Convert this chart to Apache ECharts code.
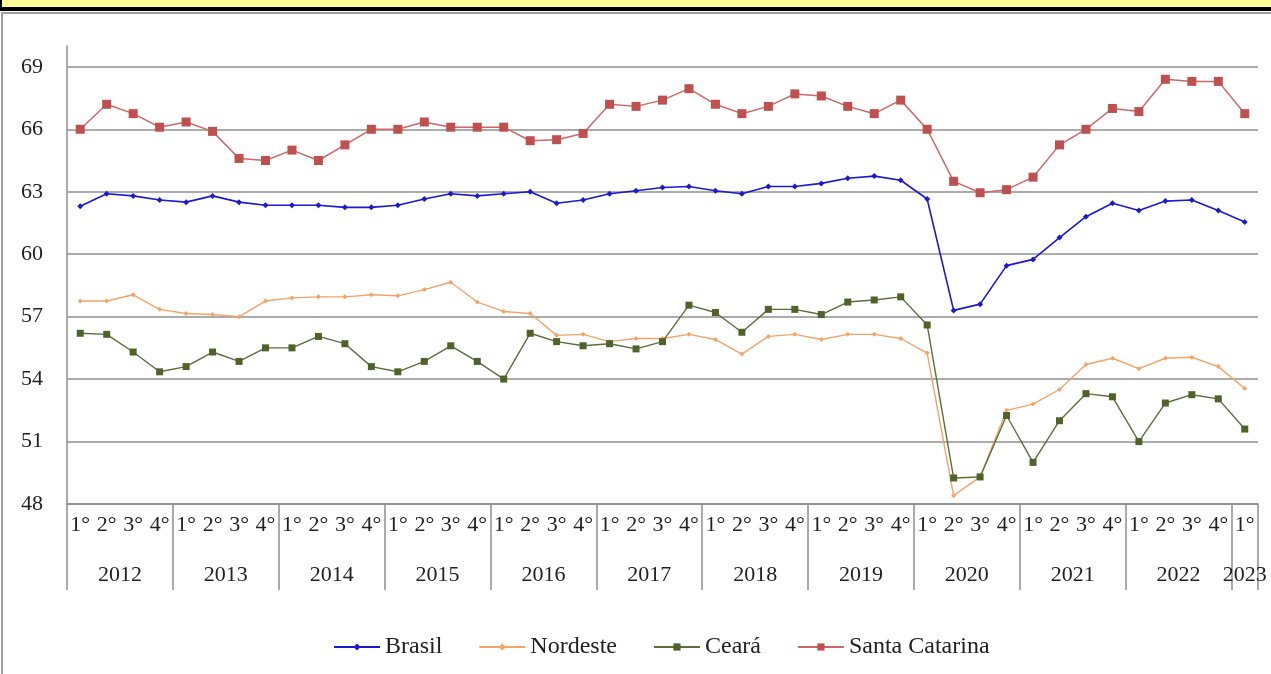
<!DOCTYPE html>
<html>
<head>
<meta charset="utf-8">
<script src="https://cdn.jsdelivr.net/npm/echarts@6/dist/echarts.min.js"></script>
<style>
  html, body { margin: 0; padding: 0; background: #fff; }
  #banner { position: absolute; left: 0; top: 0; width: 1271px; height: 7px; background: #ffff99;
            border-bottom: 4px solid #000; border-left: 2px solid #000; box-sizing: content-box; }
  #frame { position: absolute; left: 1px; top: 12px; width: 1280px; height: 700px;
           border-left: 2px solid #a0a0a0; border-top: 2px solid #a0a0a0; }
  #main { position: absolute; left: 0; top: 0; width: 1271px; height: 674px; }
</style>
</head>
<body>
<div id="frame"></div>
<div id="banner"></div>
<div id="main"></div>
<script>
// dados trimestrais 2012 T1 .. 2023 T1
var years = ['2012','2013','2014','2015','2016','2017','2018','2019','2020','2021','2022','2023'];
var quarters = ['1°','2°','3°','4°'];
var yTicks = { min: 48, max: 70, step: 3 };

var brasil = [
  62.3, 62.9, 62.8, 62.6,
  62.5, 62.8, 62.5, 62.35,
  62.35, 62.35, 62.25, 62.25,
  62.35, 62.65, 62.9, 62.8,
  62.9, 63.0, 62.45, 62.6,
  62.9, 63.05, 63.2, 63.25,
  63.05, 62.9, 63.25, 63.25,
  63.4, 63.65, 63.75, 63.55,
  62.65, 57.3, 57.6, 59.45,
  59.75, 60.8, 61.8, 62.45,
  62.1, 62.55, 62.6, 62.1,
  61.55
];
var nordeste = [
  57.75, 57.75, 58.05, 57.35,
  57.15, 57.1, 57.0, 57.75,
  57.9, 57.95, 57.95, 58.05,
  58.0, 58.3, 58.65, 57.7,
  57.25, 57.15, 56.1, 56.15,
  55.8, 55.95, 55.95, 56.15,
  55.9, 55.2, 56.05, 56.15,
  55.9, 56.15, 56.15, 55.95,
  55.25, 48.4, 49.3, 52.5,
  52.8, 53.5, 54.7, 55.0,
  54.5, 55.0, 55.05, 54.6,
  53.55
];
var ceara = [
  56.2, 56.15, 55.3, 54.35,
  54.6, 55.3, 54.85, 55.5,
  55.5, 56.05, 55.7, 54.6,
  54.35, 54.85, 55.6, 54.85,
  54.0, 56.2, 55.8, 55.6,
  55.7, 55.45, 55.8, 57.55,
  57.2, 56.25, 57.35, 57.35,
  57.1, 57.7, 57.8, 57.95,
  56.6, 49.25, 49.3, 52.25,
  50.0, 52.0, 53.3, 53.15,
  51.0, 52.85, 53.25, 53.05,
  51.6
];
var santaCatarina = [
  66.0, 67.2, 66.75, 66.1,
  66.35, 65.9, 64.6, 64.5,
  65.0, 64.5, 65.25, 66.0,
  66.0, 66.35, 66.1, 66.1,
  66.1, 65.45, 65.5, 65.8,
  67.2, 67.1, 67.4, 67.95,
  67.2, 66.75, 67.1, 67.7,
  67.6, 67.1, 66.75, 67.4,
  66.0, 63.5, 62.95, 63.1,
  63.7, 65.25, 66.0, 67.0,
  66.85, 68.4, 68.3, 68.3,
  66.75
];

// categorias: um rotulo por trimestre
var nPts = brasil.length;
var cats = [];
for (var i = 0; i < nPts; i++) cats.push(quarters[i % 4]);

// eixo auxiliar de meio-trimestre para separadores e anos
var half = [];
for (var j = 0; j <= nPts * 2; j++) half.push('');
for (var k = 0; k < years.length; k++) {
  var mid = Math.min(k * 8 + 4, nPts * 2 - 1);
  half[mid] = years[k];
}

var fontFam = '"Liberation Serif", "Times New Roman", serif';
var gray = '#8f8f8f';

var myChart = echarts.init(document.getElementById('main'));
var option = {
  animation: false,
  textStyle: { fontFamily: fontFam },
  grid: { left: 67, right: 13, top: 46, bottom: 170 },
  legend: {
    bottom: 10,
    left: 328,
    itemWidth: 46,
    itemHeight: 9,
    itemGap: 36,
    textStyle: { fontFamily: fontFam, fontSize: 24, color: '#222' },
    data: ['Brasil', 'Nordeste', 'Ceará', 'Santa Catarina']
  },
  xAxis: [
    {
      type: 'category',
      data: cats,
      boundaryGap: true,
      axisLine: { lineStyle: { color: gray, width: 1.5 } },
      axisTick: { show: false },
      axisLabel: { interval: 0, margin: 10, fontSize: 22, color: '#222', fontFamily: fontFam }
    },
    {
      type: 'category',
      data: half,
      boundaryGap: false,
      position: 'bottom',
      axisLine: { show: false },
      axisTick: {
        show: true,
        length: 86,
        interval: function (idx) { return idx % 8 === 0 || idx === nPts * 2; },
        lineStyle: { color: gray, width: 1.5 }
      },
      axisLabel: {
        margin: 60,
        fontSize: 22,
        color: '#222',
        fontFamily: fontFam,
        interval: function (idx, val) { return val !== ''; }
      }
    }
  ],
  yAxis: {
    type: 'value',
    min: yTicks.min,
    max: yTicks.max,
    interval: yTicks.step,
    axisLine: { show: true, lineStyle: { color: gray, width: 1.5 } },
    axisTick: { show: false },
    axisLabel: { margin: 24, fontSize: 22, color: '#222', fontFamily: fontFam, showMaxLabel: false },
    splitLine: { show: true, showMaxLine: false, lineStyle: { color: gray, width: 1.5 } }
  },
  series: [
    {
      name: 'Brasil', type: 'line', data: brasil,
      symbol: 'diamond', symbolSize: 6,
      itemStyle: { color: '#1a1ad0' },
      lineStyle: { color: '#1a1ad0', width: 1.6 }
    },
    {
      name: 'Nordeste', type: 'line', data: nordeste,
      symbol: 'diamond', symbolSize: 5,
      itemStyle: { color: '#f5a468' },
      lineStyle: { color: '#f5a468', width: 1.4 }
    },
    {
      name: 'Ceará', type: 'line', data: ceara,
      symbol: 'rect', symbolSize: 7,
      itemStyle: { color: '#4f6228' },
      lineStyle: { color: '#5b6e3c', width: 1.4 }
    },
    {
      name: 'Santa Catarina', type: 'line', data: santaCatarina,
      symbol: 'rect', symbolSize: 9,
      itemStyle: { color: '#c0504d' },
      lineStyle: { color: '#cc6866', width: 1.5 }
    }
  ]
};
myChart.setOption(option);
</script>
</body>
</html>
